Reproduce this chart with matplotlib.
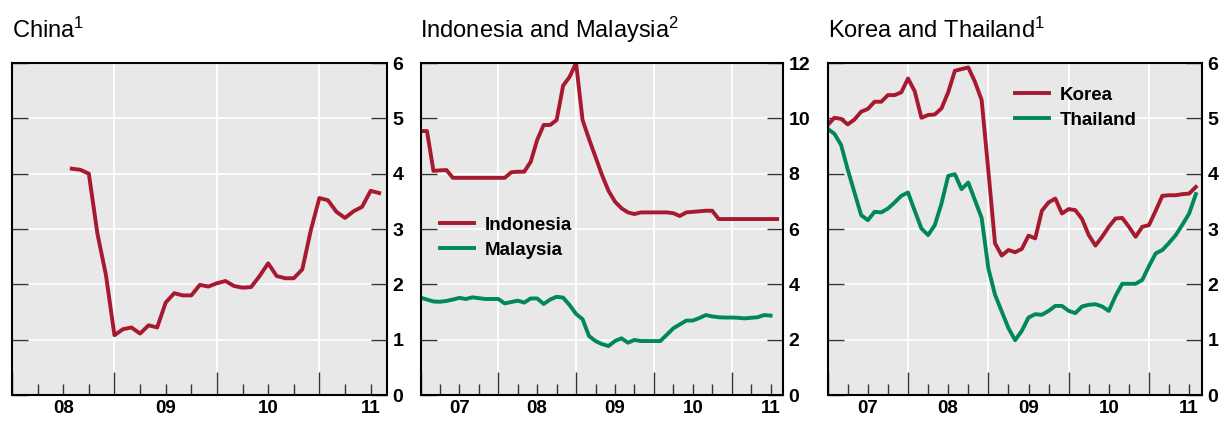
import numpy as np
import matplotlib.pyplot as plt

plt.rcParams['font.family'] = ['Liberation Sans', 'DejaVu Sans']
plt.rcParams['mathtext.fontset'] = 'custom'
plt.rcParams['mathtext.rm'] = 'Liberation Sans'
plt.rcParams['mathtext.default'] = 'regular'

RED = '#a6192e'
GREEN = '#00875a'
BG = '#e8e8e8'
TICK = '#333333'

# monthly data
china_start = 2008 + 7 / 12   # Aug 2008
china = [4.09, 4.07, 4.00, 2.92, 2.17,
         1.08, 1.19, 1.22, 1.11, 1.26, 1.22, 1.67, 1.84, 1.80, 1.80, 1.99, 1.96,
         2.02, 2.06, 1.97, 1.94, 1.95, 2.15, 2.38, 2.15, 2.11, 2.11, 2.27, 2.98,
         3.56, 3.52, 3.31, 3.20, 3.32, 3.40, 3.69, 3.65]

sea_start = 2007.0            # Jan 2007
indonesia = [9.54, 9.54, 8.10, 8.12, 8.13, 7.85, 7.85, 7.85, 7.85, 7.85, 7.85, 7.85,
             7.85, 7.85, 8.05, 8.07, 8.07, 8.43, 9.22, 9.76, 9.76, 9.94, 11.18, 11.50,
             12.00, 9.94, 9.25, 8.60, 7.95, 7.38, 6.99, 6.75, 6.60, 6.54, 6.60, 6.60,
             6.60, 6.60, 6.60, 6.57, 6.47, 6.60, 6.62, 6.64, 6.66, 6.66, 6.36, 6.36,
             6.36, 6.36, 6.36, 6.36, 6.36, 6.36, 6.36, 6.36]
malaysia = [3.52, 3.45, 3.38, 3.37, 3.40, 3.45, 3.51, 3.47, 3.53, 3.50, 3.47, 3.47,
            3.47, 3.31, 3.36, 3.41, 3.34, 3.49, 3.49, 3.29, 3.45, 3.55, 3.52, 3.25,
            2.93, 2.74, 2.13, 1.95, 1.84, 1.77, 1.95, 2.05, 1.89, 1.99, 1.95, 1.95,
            1.95, 1.95, 2.18, 2.41, 2.55, 2.69, 2.69, 2.78, 2.89, 2.84, 2.81, 2.80,
            2.80, 2.79, 2.77, 2.79, 2.81, 2.89, 2.87]

korea = [4.88, 5.01, 4.99, 4.89, 4.98, 5.12, 5.17, 5.30, 5.30, 5.42, 5.42, 5.47,
         5.72, 5.49, 5.01, 5.06, 5.07, 5.18, 5.47, 5.86, 5.89, 5.92, 5.66, 5.33,
         4.05, 2.74, 2.52, 2.62, 2.58, 2.64, 2.88, 2.83, 3.33, 3.48, 3.55, 3.28,
         3.36, 3.34, 3.18, 2.89, 2.70, 2.86, 3.04, 3.19, 3.20, 3.04, 2.86, 3.04,
         3.07, 3.33, 3.60, 3.61, 3.61, 3.63, 3.64, 3.76]
thailand = [4.81, 4.72, 4.52, 4.07, 3.66, 3.25, 3.16, 3.31, 3.30, 3.37, 3.48, 3.60,
            3.66, 3.33, 3.01, 2.89, 3.07, 3.46, 3.96, 3.99, 3.72, 3.84, 3.52, 3.20,
            2.29, 1.81, 1.51, 1.21, 0.99, 1.16, 1.40, 1.46, 1.45, 1.52, 1.61, 1.61,
            1.52, 1.48, 1.60, 1.63, 1.64, 1.60, 1.52, 1.79, 2.01, 2.01, 2.01, 2.08,
            2.33, 2.56, 2.62, 2.75, 2.89, 3.08, 3.28, 3.63]

x_end = 2011.66


def months(start, values):
    return start + np.arange(len(values)) / 12


def style(ax, first_year, yticks):
    ax.set_facecolor(BG)
    ax.set_axisbelow(True)
    ax.set_xlim(first_year, x_end)
    ax.set_ylim(yticks[0], yticks[-1])

    # long ticks + grid at year starts, short ticks at quarters, label mid-year
    years = list(range(first_year, 2012))
    ax.set_xticks(years, [''] * len(years))
    qpos, qlab = [], []
    for y in years:
        for q in (0.25, 0.5, 0.75):
            if y + q < x_end:
                qpos.append(y + q)
                qlab.append(f'{y % 100:02d}' if q == 0.5 else '')
    ax.set_xticks(qpos, qlab, minor=True, fontsize=13.5, fontweight='bold')
    ax.tick_params(axis='x', which='major', direction='in', length=16.8,
                   width=1, color=TICK, top=False)
    ax.tick_params(axis='x', which='minor', direction='in', length=8.0,
                   width=1, color=TICK, top=False, pad=3.3)

    ax.set_yticks(yticks, [str(v) for v in yticks], fontsize=14, fontweight='bold')
    ax.tick_params(axis='y', direction='in', length=11.3, width=1, color=TICK,
                   left=True, right=True, labelleft=False, labelright=True, pad=4)

    ax.grid(True, which='major', color='white', lw=1.3)
    for s in ax.spines.values():
        s.set_linewidth(1.5)
        s.set_color('black')


fig = plt.figure(figsize=(12.24, 4.21), dpi=100)
W, H = 1224, 421
ax1 = fig.add_axes([12 / W, 26 / H, 375 / W, 332 / H])
ax2 = fig.add_axes([420.5 / W, 26 / H, 362.5 / W, 332 / H])
ax3 = fig.add_axes([827.7 / W, 26 / H, 374.3 / W, 332 / H])

lw = 2.8
leg_kw = dict(frameon=False, prop={'weight': 'bold', 'size': 13.5},
              handlelength=1.8, handletextpad=0.6, labelspacing=0.42,
              borderpad=0, borderaxespad=0)

# China
ax1.plot(months(china_start, china), china, color=RED, lw=lw)
style(ax1, 2008, list(range(0, 7)))
ax1.set_title('China$^{1}$', loc='left', fontsize=17, pad=18)

# Indonesia and Malaysia
ax2.plot(months(sea_start, indonesia), indonesia, color=RED, lw=lw, label='Indonesia')
ax2.plot(months(sea_start, malaysia), malaysia, color=GREEN, lw=lw, label='Malaysia')
style(ax2, 2007, list(range(0, 13, 2)))
ax2.set_title('Indonesia and Malaysia$^{2}$', loc='left', fontsize=17, pad=18)
ax2.legend(loc='center left', bbox_to_anchor=(0.054, 0.473), **leg_kw)

# Korea and Thailand
ax3.plot(months(sea_start, korea), korea, color=RED, lw=lw, label='Korea')
ax3.plot(months(sea_start, thailand), thailand, color=GREEN, lw=lw, label='Thailand')
style(ax3, 2007, list(range(0, 7)))
ax3.set_title('Korea and Thailand$^{1}$', loc='left', fontsize=17, pad=18)
ax3.legend(loc='center left', bbox_to_anchor=(0.50, 0.866), **leg_kw)

fig.savefig('out.png', dpi=100)
